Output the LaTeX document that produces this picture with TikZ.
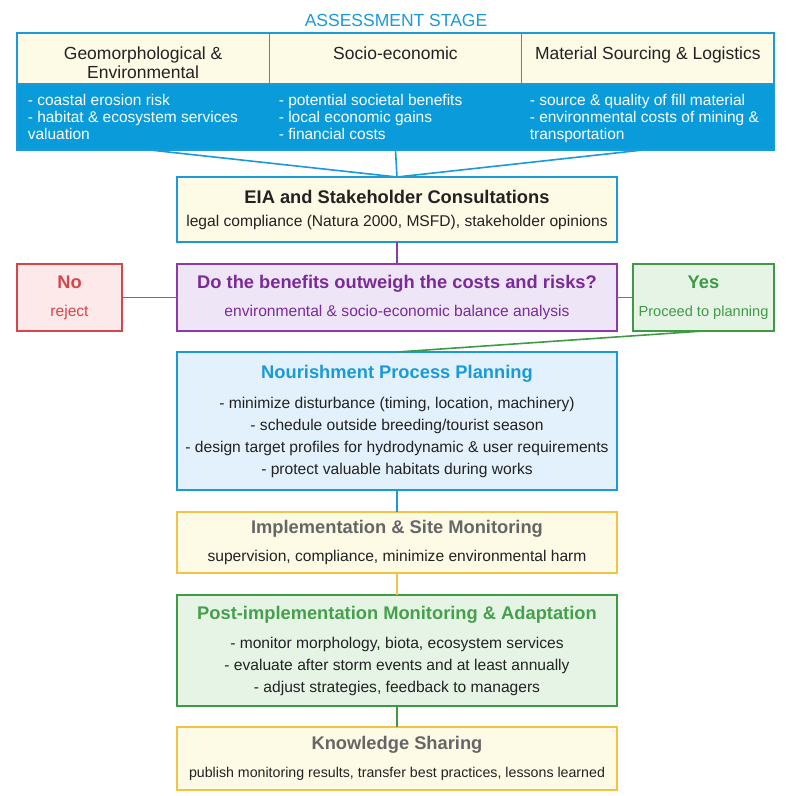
\documentclass[tikz,border=0pt]{standalone}
\usepackage{fontspec}
\setmainfont{Liberation Sans}
\usetikzlibrary{positioning}

\definecolor{cyanblue}{HTML}{1A9AD8}
\definecolor{bandblue}{HTML}{0A9BDB}
\definecolor{creamfill}{HTML}{FDFAE6}
\definecolor{lilacfill}{HTML}{EEE6F6}
\definecolor{purpleline}{HTML}{8B3BA8}
\definecolor{purpletext}{HTML}{7A2A9A}
\definecolor{redline}{HTML}{D6454A}
\definecolor{pinkfill}{HTML}{FDE9EA}
\definecolor{greenline}{HTML}{3F9A45}
\definecolor{greentitle}{HTML}{45A04B}
\definecolor{mintfill}{HTML}{E6F4E6}
\definecolor{skyfill}{HTML}{E2F1FB}
\definecolor{goldline}{HTML}{F3C443}
\definecolor{greytitle}{HTML}{666666}
\definecolor{inktext}{HTML}{222222}

\newcommand{\boxtitle}[1]{{\fontsize{18.3}{22}\selectfont\bfseries #1}}

\begin{document}
\begin{tikzpicture}[x=1pt, y=-1pt, line width=1.6pt]
      % Styles
      \tikzstyle{block} = [rectangle, draw, text=inktext, align=center, outer sep=0pt,
                          minimum width=440pt, font=\fontsize{15.6}{22}\selectfont]
      \tikzstyle{side} = [block, minimum width=105pt, minimum height=67pt]
      \tikzstyle{head} = [rectangle, draw=cyanblue, fill=creamfill, outer sep=0pt,
                          minimum width=252.33pt, minimum height=51pt, anchor=north west]
      \tikzstyle{headtext} = [align=center, anchor=north, inner sep=0pt, text=inktext,
                          font=\fontsize{17.5}{19}\selectfont]
      \tikzstyle{bandtext} = [align=left, anchor=north west, inner sep=0pt, text=white,
                          font=\fontsize{15.5}{17}\selectfont]

      \useasboundingbox (0,0) rectangle (792,796);

      % Assessment stage
      \node[text=cyanblue, font=\fontsize{17.5}{20}\selectfont] (stage) at (396,20) {ASSESSMENT STAGE};
      \node[head] (geo) at (17,33) {};
      \node[head] (socio) at (269.33,33) {};
      \node[head] (material) at (521.67,33) {};
      \node[rectangle, fill=bandblue, draw=cyanblue, outer sep=0pt, anchor=north west,
            minimum width=757pt, minimum height=66pt] (band) at (17,84) {};
      \node[headtext] (geotitle) at ([yshift=-13pt]geo.north) {Geomorphological \&\\ Environmental};
      \node[headtext] (sociotitle) at ([yshift=-13pt]socio.north) {Socio-economic};
      \node[headtext] (materialtitle) at ([yshift=-13pt]material.north) {Material Sourcing \& Logistics};
      \node[bandtext] (geolist) at (27,93) {- coastal erosion risk\\ - habitat \& ecosystem services\\ valuation};
      \node[bandtext] (sociolist) at (278,93) {- potential societal benefits\\ - local economic gains\\ - financial costs};
      \node[bandtext] (materiallist) at (529,93) {- source \& quality of fill material\\ - environmental costs of mining \&\\ transportation};
      \coordinate (bandL) at (150,150);
      \coordinate (bandR) at (643,150);

      % Nodes
      \node[block, draw=cyanblue, fill=creamfill, minimum height=65pt] (eia) at (397,209.5)
            {\boxtitle{EIA and Stakeholder Consultations}\\[1pt] legal compliance (Natura 2000, MSFD), stakeholder opinions};
      \node[block, draw=purpleline, fill=lilacfill, text=purpletext, minimum height=67pt, below=22pt of eia] (decision)
            {\boxtitle{Do the benefits outweigh the costs and risks?}\\[6pt] environmental \& socio-economic balance analysis};
      \node[side, draw=redline, fill=pinkfill, text=redline, left=55pt of decision] (no)
            {\boxtitle{No}\\[6pt] reject};
      \node[side, draw=greenline, fill=mintfill, text=greenline, minimum width=141pt, right=16pt of decision] (yes)
            {\boxtitle{Yes}\\[6pt] {\fontsize{14.6}{22}\selectfont Proceed to planning}};
      \node[block, draw=cyanblue, fill=skyfill, minimum height=138pt, below=21pt of decision] (nourish)
            {\textcolor{cyanblue}{\boxtitle{Nourishment Process Planning}}\\[8pt]
             - minimize disturbance (timing, location, machinery)\\
             - schedule outside breeding/tourist season\\
             - design target profiles for hydrodynamic \& user requirements\\
             - protect valuable habitats during works};
      \node[block, draw=goldline, fill=creamfill, minimum height=61pt, below=22pt of nourish] (implement)
            {\textcolor{greytitle}{\boxtitle{Implementation \& Site Monitoring}}\\[6pt]
             supervision, compliance, minimize environmental harm};
      \node[block, draw=greenline, fill=mintfill, minimum height=111pt, below=22pt of implement] (monitor)
            {\textcolor{greentitle}{\boxtitle{Post-implementation Monitoring \& Adaptation}}\\[7pt]
             - monitor morphology, biota, ecosystem services\\
             - evaluate after storm events and at least annually\\
             - adjust strategies, feedback to managers};
      \node[block, draw=goldline, fill=creamfill, minimum height=63pt, below=21pt of monitor] (sharing)
            {\textcolor{greytitle}{\boxtitle{Knowledge Sharing}}\\[6pt]
             {\fontsize{14.2}{22}\selectfont publish monitoring results, transfer best practices, lessons learned}};

      % Lines
      \draw[cyanblue] (bandL) -- (eia.north);
      \draw[cyanblue] (band.south) -- (eia.north);
      \draw[cyanblue] (bandR) -- (eia.north);
      \draw[purpleline] (eia) -- (decision);
      \draw[redline] (no) -- (decision);
      \draw[greenline] (decision) -- (yes);
      \draw[greenline] (yes.south) -- (nourish.north);
      \draw[cyanblue] (nourish) -- (implement);
      \draw[goldline] (implement) -- (monitor);
      \draw[greenline] (monitor) -- (sharing);
  \end{tikzpicture}
\end{document}
